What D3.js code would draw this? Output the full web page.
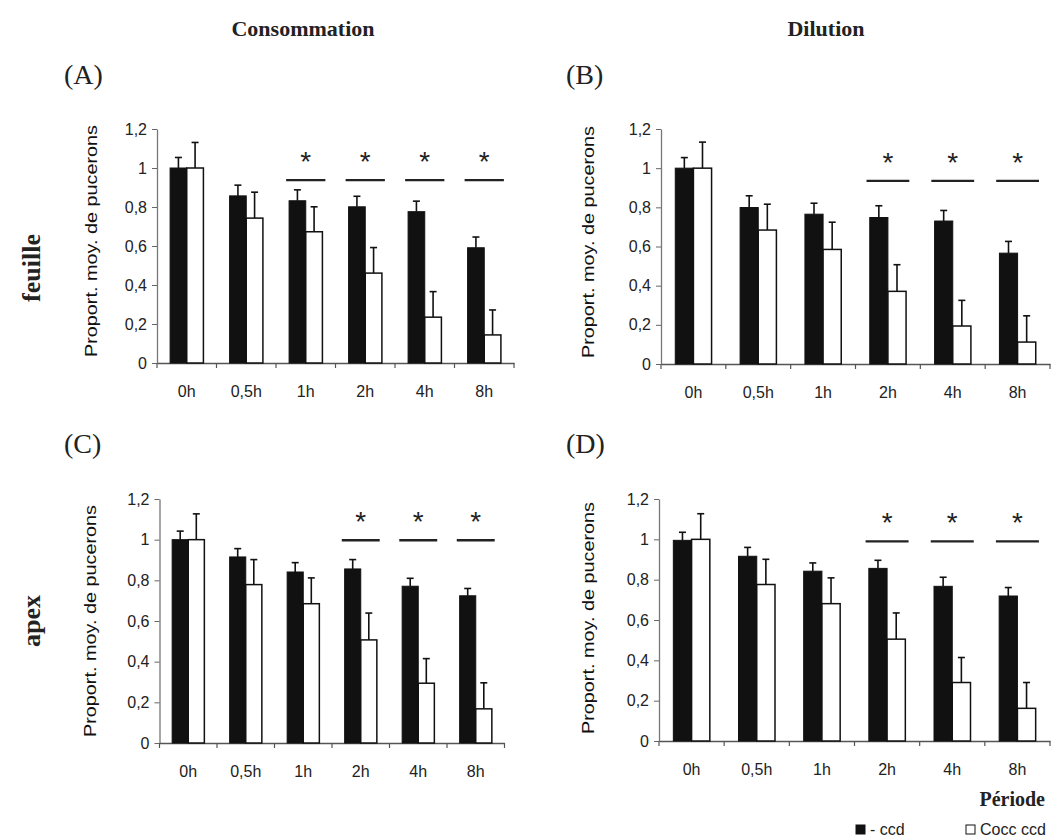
<!DOCTYPE html>
<html>
<head>
<meta charset="utf-8">
<script src="https://cdn.jsdelivr.net/npm/d3@7"></script>
<style>
  body { margin: 0; background: #fff; }
</style>
</head>
<body>
<div id="chart"></div>
<script>
var periods = ["0h", "0,5h", "1h", "2h", "4h", "8h"]
var yTicks = [0, 0.2, 0.4, 0.6, 0.8, 1, 1.2]

// mean proportion of aphids, black = "- ccd", white = "Cocc ccd", with the error bar length
var consFeuilleCcd = [1.0, 0.857, 0.832, 0.801, 0.776, 0.591]
var consFeuilleCcdErr = [0.054, 0.055, 0.056, 0.054, 0.054, 0.055]
var consFeuilleCocc = [1.0, 0.743, 0.673, 0.461, 0.235, 0.144]
var consFeuilleCoccErr = [0.131, 0.133, 0.128, 0.131, 0.131, 0.128]

var dilFeuilleCcd = [1.0, 0.799, 0.765, 0.748, 0.730, 0.566]
var dilFeuilleCcdErr = [0.054, 0.060, 0.056, 0.060, 0.054, 0.060]
var dilFeuilleCocc = [1.0, 0.684, 0.585, 0.371, 0.194, 0.112]
var dilFeuilleCoccErr = [0.133, 0.132, 0.139, 0.136, 0.131, 0.134]

var consApexCcd = [1.0, 0.915, 0.841, 0.856, 0.771, 0.724]
var consApexCcdErr = [0.042, 0.041, 0.046, 0.046, 0.039, 0.036]
var consApexCocc = [1.0, 0.779, 0.685, 0.507, 0.294, 0.168]
var consApexCoccErr = [0.127, 0.123, 0.127, 0.132, 0.121, 0.128]

var dilApexCcd = [0.995, 0.916, 0.842, 0.856, 0.767, 0.719]
var dilApexCcdErr = [0.040, 0.044, 0.041, 0.040, 0.045, 0.042]
var dilApexCocc = [1.0, 0.776, 0.681, 0.505, 0.290, 0.162]
var dilApexCoccErr = [0.127, 0.125, 0.128, 0.130, 0.124, 0.128]

// periods marked with a star
var sigA = ["1h", "2h", "4h", "8h"]
var sigB = ["2h", "4h", "8h"]
var sigC = ["2h", "4h", "8h"]
var sigD = ["2h", "4h", "8h"]

var sans = "'Liberation Sans', Arial, sans-serif"
var serif = "'Liberation Serif', 'Times New Roman', serif"

var panels = [
  { tag: "(A)", black: consFeuilleCcd, blackErr: consFeuilleCcdErr, white: consFeuilleCocc, whiteErr: consFeuilleCoccErr,
    sig: sigA, sigLevel: 0.938, left: 157, right: 514, bottom: 363, top: 129, titleX: 97, titleY: 241, tagX: 64, tagY: 84 },
  { tag: "(B)", black: dilFeuilleCcd, blackErr: dilFeuilleCcdErr, white: dilFeuilleCocc, whiteErr: dilFeuilleCoccErr,
    sig: sigB, sigLevel: 0.935, left: 661, right: 1050, bottom: 364, top: 129, titleX: 594, titleY: 242, tagX: 566, tagY: 84 },
  { tag: "(C)", black: consApexCcd, blackErr: consApexCcdErr, white: consApexCocc, whiteErr: consApexCoccErr,
    sig: sigC, sigLevel: 0.997, left: 159.5, right: 504.5, bottom: 743, top: 499, titleX: 96, titleY: 621, tagX: 64, tagY: 453 },
  { tag: "(D)", black: dilApexCcd, blackErr: dilApexCcdErr, white: dilApexCocc, whiteErr: dilApexCoccErr,
    sig: sigD, sigLevel: 0.99, left: 659, right: 1050, bottom: 741, top: 499, titleX: 594, titleY: 618, tagX: 566, tagY: 453 }
]

var svg = d3.select("#chart").append("svg")
  .attr("width", 1051)
  .attr("height", 836)
  .style("font-family", sans)

var fmt = function (d) {
  return String(d).replace(".", ",")
}

panels.forEach(function (p) {
  var x = d3.scaleBand().domain(periods).range([p.left, p.right])
  var y = d3.scaleLinear().domain([0, 1.2]).range([p.bottom, p.top])
  var bw = x.bandwidth()
  var barW = bw * 0.28
  var off = (bw - 2 * barW) / 2

  var g = svg.append("g")

  // y axis
  var yAxis = g.append("g")
    .attr("transform", `translate(${p.left},0)`)
    .call(d3.axisLeft(y).tickValues(yTicks).tickSize(5).tickSizeOuter(0).tickPadding(5).tickFormat(fmt))
  yAxis.attr("font-family", null)
  yAxis.select(".domain").attr("stroke", "#777").attr("stroke-width", 1.3)
  yAxis.selectAll(".tick line").attr("stroke", "#666")
  yAxis.selectAll(".tick text").attr("font-size", 16).attr("fill", "#222")

  // x axis, labels only, ticks at the band edges
  var xAxis = g.append("g")
    .attr("transform", `translate(0,${p.bottom})`)
    .call(d3.axisBottom(x).tickSize(0).tickSizeOuter(0).tickPadding(23))
  xAxis.attr("font-family", null)
  xAxis.select(".domain").attr("stroke", "#555").attr("stroke-width", 1.3)
  xAxis.selectAll(".tick text").attr("font-size", 16).attr("fill", "#222")

  g.append("g").selectAll("line")
    .data(d3.range(periods.length + 1))
    .join("line")
    .attr("x1", d => p.left + d * x.step())
    .attr("x2", d => p.left + d * x.step())
    .attr("y1", p.bottom)
    .attr("y2", p.bottom + 5)
    .attr("stroke", "#555")
    .attr("stroke-width", 1.2)

  // error bars (drawn first, bars on top)
  var errs = []
  periods.forEach(function (per, i) {
    errs.push({ cx: x(per) + off + barW / 2, v: p.black[i], e: p.blackErr[i] })
    errs.push({ cx: x(per) + off + barW * 1.5, v: p.white[i], e: p.whiteErr[i] })
  })
  var eg = g.append("g").attr("stroke", "#111").attr("stroke-width", 1.6)
  eg.selectAll("line.v").data(errs).join("line")
    .attr("class", "v")
    .attr("x1", d => d.cx).attr("x2", d => d.cx)
    .attr("y1", d => y(d.v)).attr("y2", d => y(d.v + d.e))
  eg.selectAll("line.c").data(errs).join("line")
    .attr("class", "c")
    .attr("x1", d => d.cx - 3.5).attr("x2", d => d.cx + 3.5)
    .attr("y1", d => y(d.v + d.e)).attr("y2", d => y(d.v + d.e))

  // bars
  g.append("g").selectAll("rect")
    .data(periods)
    .join("rect")
    .attr("x", d => x(d) + off)
    .attr("y", (d, i) => y(p.black[i]))
    .attr("width", barW)
    .attr("height", (d, i) => y(0) - y(p.black[i]))
    .attr("fill", "#111")
    .attr("stroke", "#111")
    .attr("stroke-width", 1)

  g.append("g").selectAll("rect")
    .data(periods)
    .join("rect")
    .attr("x", d => x(d) + off + barW)
    .attr("y", (d, i) => y(p.white[i]))
    .attr("width", barW)
    .attr("height", (d, i) => y(0) - y(p.white[i]))
    .attr("fill", "#fff")
    .attr("stroke", "#111")
    .attr("stroke-width", 1.5)

  // significance marks
  var sg = g.append("g")
  sg.selectAll("line").data(p.sig).join("line")
    .attr("x1", d => x(d) + bw * 0.17)
    .attr("x2", d => x(d) + bw * 0.83)
    .attr("y1", y(p.sigLevel))
    .attr("y2", y(p.sigLevel))
    .attr("stroke", "#222")
    .attr("stroke-width", 2.4)
  sg.selectAll("text").data(p.sig).join("text")
    .attr("x", d => x(d) + bw / 2)
    .attr("y", y(p.sigLevel) - 9)
    .attr("text-anchor", "middle")
    .attr("font-size", 28)
    .attr("fill", "#222")
    .text("*")

  // y title
  g.append("text")
    .attr("transform", `translate(${p.titleX},${p.titleY}) rotate(-90)`)
    .attr("text-anchor", "middle")
    .attr("font-size", 17)
    .attr("textLength", 232)
    .attr("lengthAdjust", "spacingAndGlyphs")
    .attr("fill", "#111")
    .text("Proport. moy. de pucerons")

  // panel tag
  svg.append("text")
    .attr("x", p.tagX)
    .attr("y", p.tagY)
    .attr("font-family", serif)
    .attr("font-size", 28)
    .attr("fill", "#222")
    .text(p.tag)
})

// column titles
svg.append("text")
  .attr("x", 303).attr("y", 36)
  .attr("text-anchor", "middle")
  .attr("font-family", serif).attr("font-weight", "bold").attr("font-size", 22)
  .attr("fill", "#222")
  .text("Consommation")

svg.append("text")
  .attr("x", 826).attr("y", 36)
  .attr("text-anchor", "middle")
  .attr("font-family", serif).attr("font-weight", "bold").attr("font-size", 22)
  .attr("fill", "#222")
  .text("Dilution")

// row titles
svg.append("text")
  .attr("transform", "translate(40,268) rotate(-90)")
  .attr("text-anchor", "middle")
  .attr("font-family", serif).attr("font-weight", "bold").attr("font-size", 26)
  .attr("fill", "#222")
  .text("feuille")

svg.append("text")
  .attr("transform", "translate(40,621) rotate(-90)")
  .attr("text-anchor", "middle")
  .attr("font-family", serif).attr("font-weight", "bold").attr("font-size", 26)
  .attr("fill", "#222")
  .text("apex")

// x title and legend
svg.append("text")
  .attr("x", 1045).attr("y", 806)
  .attr("text-anchor", "end")
  .attr("font-family", serif).attr("font-weight", "bold").attr("font-size", 20)
  .attr("fill", "#222")
  .text("Période")

var legend = [
  { label: "- ccd", fill: "#111", x: 856 },
  { label: "Cocc ccd", fill: "#fff", x: 966 }
]
var lg = svg.append("g").selectAll("g").data(legend).join("g")
  .attr("transform", d => `translate(${d.x},825)`)
lg.append("rect")
  .attr("width", 9).attr("height", 9)
  .attr("fill", d => d.fill)
  .attr("stroke", "#111")
lg.append("text")
  .attr("x", 14).attr("y", 9.5)
  .attr("font-size", 16)
  .attr("fill", "#222")
  .text(d => d.label)
</script>
</body>
</html>
